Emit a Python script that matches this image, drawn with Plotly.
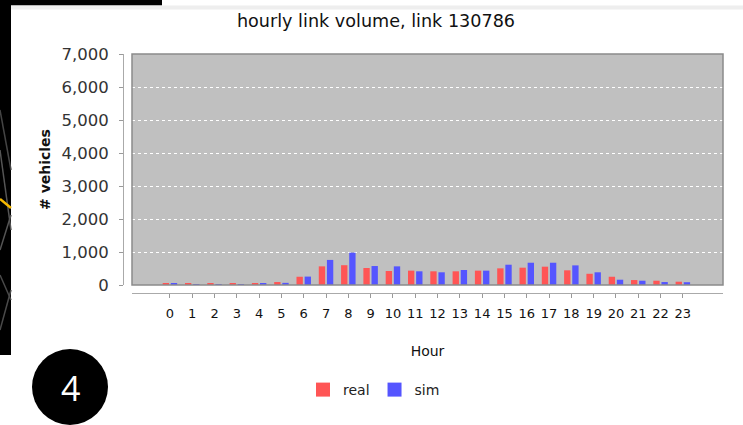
import plotly.graph_objects as go

# Hourly volumes on link 130786: observed counts vs. simulation
hours = list(range(24))
hour_labels = [str(h) for h in hours]
real = [60, 40, 35, 35, 50, 90, 250, 565, 600, 515, 425, 435,
        415, 415, 435, 505, 525, 555, 445, 340, 250, 150, 130, 100]
sim = [50, 30, 20, 20, 40, 65, 255, 760, 980, 575, 565, 415,
       385, 455, 435, 615, 675, 675, 595, 385, 160, 130, 90, 85]
y_ticks = [0, 1000, 2000, 3000, 4000, 5000, 6000, 7000]
series_colors = {"real": "#FF5555", "sim": "#5555FF"}

W, H = 743, 425
ML, MR, MT, MB = 123, 20, 54, 132
PW, PH = W - ML - MR, H - MT - MB


def px(x):
    return (x - ML) / PW


def py(y):
    return (H - MB - y) / PH


fig = go.Figure()
for name, vals in (("real", real), ("sim", sim)):
    fig.add_trace(go.Bar(x=hours, y=vals, name=name, legendgroup=name,
                         marker_color=series_colors[name], marker_line_width=0,
                         showlegend=False))
    # square legend swatch for the series
    fig.add_trace(go.Scatter(x=[None], y=[None], mode="markers", name=name,
                             legendgroup=name,
                             marker=dict(symbol="square", size=14,
                                         color=series_colors[name])))

shapes = [
    # dark map strip on the left and top
    dict(type="rect", xref="paper", yref="paper", x0=px(-5), x1=px(11),
         y0=py(355), y1=py(-5), fillcolor="black", line_width=0, layer="below"),
    dict(type="rect", xref="paper", yref="paper", x0=px(-5), x1=px(162),
         y0=py(5.5), y1=py(-5), fillcolor="black", line_width=0, layer="below"),
    dict(type="rect", xref="paper", yref="paper", x0=px(11), x1=px(750),
         y0=py(9.5), y1=py(5.5), fillcolor="#EEEEEE", line_width=0, layer="below"),
    # plot outline
    dict(type="rect", xref="x domain", yref="y domain", x0=0, x1=1, y0=0, y1=1,
         line=dict(color="#8A8A8A", width=1.5), fillcolor="rgba(0,0,0,0)"),
    # step-number badge
    dict(type="circle", xref="paper", yref="paper", x0=px(32), x1=px(108),
         y0=py(425), y1=py(349), fillcolor="black", line_width=0),
]
# road lines visible in the map strip
road_lines = [((0, 150), (11, 230), "#555555"), ((0, 250), (11, 215), "#555555"),
              ((0, 275), (11, 300), "#4a4a4a"), ((0, 330), (11, 290), "#4a4a4a"),
              ((0, 110), (11, 170), "#444444"), ((0, 199), (11, 208), "#F5B800")]
for (x0, y0), (x1, y1), c in road_lines:
    shapes.append(dict(type="line", xref="paper", yref="paper",
                       x0=px(x0), y0=py(y0), x1=px(x1), y1=py(y1),
                       line=dict(color=c, width=1.5 if c != "#F5B800" else 2.5),
                       layer="below"))

fig.update_layout(
    width=W, height=H,
    margin=dict(l=ML, r=MR, t=MT, b=MB, pad=0),
    paper_bgcolor="white",
    plot_bgcolor="#C0C0C0",
    barmode="group", bargap=0.27, bargroupgap=0.22,
    font=dict(family="DejaVu Sans", color="#222222"),
    title=dict(text="hourly link volume, link 130786", xref="container",
               x=376 / W, xanchor="center", y=1 - 21 / H, yanchor="middle",
               font=dict(size=17.6, color="#111111")),
    xaxis=dict(domain=[9 / PW, 1], anchor="free", position=0,
               range=[-1.7, 24.8], tickmode="array", tickvals=hours,
               ticktext=hour_labels, showgrid=False, zeroline=False,
               showline=True, linecolor="#AAAAAA", linewidth=1,
               ticks="outside", ticklen=4, tickcolor="#999999",
               ticklabelstandoff=4,
               tickfont=dict(size=13, color="#111111"),
               title=dict(text="Hour", standoff=26,
                          font=dict(size=14, color="#111111"))),
    yaxis=dict(domain=[8 / PH, 1], anchor="free", position=0,
               range=[0, 7000], tickmode="array", tickvals=y_ticks,
               tickformat=",d", showgrid=True, gridcolor="white", gridwidth=1,
               griddash="3px,3px", zeroline=False,
               showline=True, linecolor="#AAAAAA", linewidth=1,
               ticks="outside", ticklen=4, tickcolor="#999999",
               ticklabelstandoff=7,
               tickfont=dict(size=16.5, color="#333333"),
               title=dict(text="<b># vehicles</b>", standoff=6,
                          font=dict(size=14, color="#111111"))),
    showlegend=True,
    legend=dict(orientation="h", x=px(374), xanchor="center", y=py(390),
                yanchor="middle", font=dict(size=14, color="#222222"),
                itemwidth=30, traceorder="normal", bgcolor="rgba(0,0,0,0)"),
    shapes=shapes,
    annotations=[dict(text="4", xref="paper", yref="paper", x=px(70), y=py(388),
                      showarrow=False, xanchor="center", yanchor="middle",
                      font=dict(family="Open Sans", size=34, color="white"))],
)

fig.write_html("out.html")
